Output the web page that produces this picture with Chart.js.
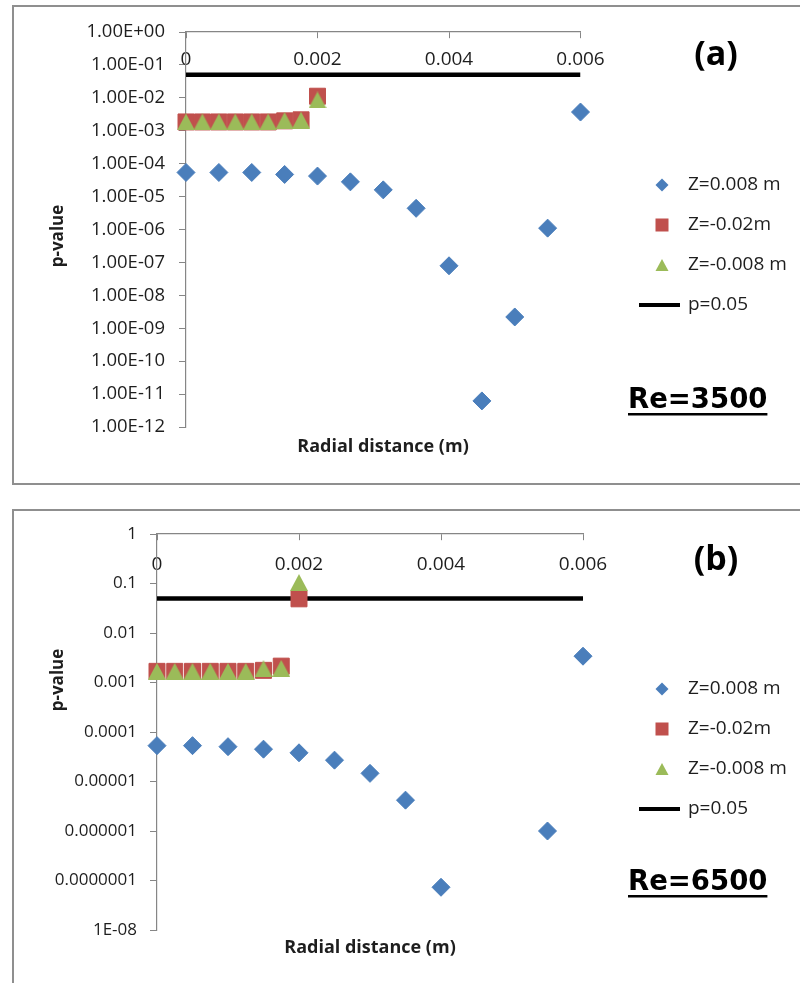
<!DOCTYPE html>
<html><head><meta charset="utf-8">
<script src="https://cdn.jsdelivr.net/npm/chart.js@4.4.0/dist/chart.umd.min.js"></script>
<style>
html,body{margin:0;padding:0;background:#fff;width:800px;height:983px;overflow:hidden;position:relative;}
.frame{position:absolute;border:2px solid #8f8f8f;box-sizing:border-box;}
#f1{left:12px;top:5px;width:800px;height:480px;}
#f2{left:12px;top:509px;width:800px;height:500px;}
.wrap{position:absolute;left:0;width:800px;height:490px;}
#w1{top:0;} #w2{top:493px;}
</style></head>
<body>
<div class="frame" id="f1"></div>
<div class="frame" id="f2"></div>
<div class="wrap" id="w1"><canvas id="c1" width="800" height="490"></canvas></div>
<div class="wrap" id="w2"><canvas id="c2" width="800" height="490"></canvas></div>
<script>
// ---------- data ----------
const seriesNames = ['Z=0.008 m', 'Z=-0.02m', 'Z=-0.008 m', 'p=0.05'];
const xTicks = [0, 0.002, 0.004, 0.006];
const xTickLabels = ['0', '0.002', '0.004', '0.006'];
const yTicksA = [1, 1e-1, 1e-2, 1e-3, 1e-4, 1e-5, 1e-6, 1e-7, 1e-8, 1e-9, 1e-10, 1e-11, 1e-12];
const yTickLabelsA = ['1.00E+00','1.00E-01','1.00E-02','1.00E-03','1.00E-04','1.00E-05','1.00E-06','1.00E-07','1.00E-08','1.00E-09','1.00E-10','1.00E-11','1.00E-12'];
const yTicksB = [1, 1e-1, 1e-2, 1e-3, 1e-4, 1e-5, 1e-6, 1e-7, 1e-8];
const yTickLabelsB = ['1','0.1','0.01','0.001','0.0001','0.00001','0.000001','0.0000001','1E-08'];

// (a) Re=3500
const xBlueA = [0, 0.0005, 0.001, 0.0015, 0.002, 0.0025, 0.003, 0.0035, 0.004, 0.0045, 0.005, 0.0055, 0.006];
const pBlueA = [5.4e-5, 5.4e-5, 5.4e-5, 4.7e-5, 4.2e-5, 2.8e-5, 1.6e-5, 4.4e-6, 7.9e-8, 6.2e-12, 2.2e-9, 1.1e-6, 3.7e-3];
const xRedGreenA = [0, 0.00025, 0.0005, 0.00075, 0.001, 0.00125, 0.0015, 0.00175, 0.002];
const pRedA = [1.85e-3, 1.85e-3, 1.85e-3, 1.85e-3, 1.85e-3, 1.85e-3, 2.0e-3, 2.15e-3, 1.12e-2];
const pGreenA = [1.85e-3, 1.85e-3, 1.85e-3, 1.85e-3, 1.85e-3, 1.85e-3, 2.05e-3, 2.1e-3, 8.6e-3];

// (b) Re=6500
const xBlueB = [0, 0.0005, 0.001, 0.0015, 0.002, 0.0025, 0.003, 0.0035, 0.004, 0.0055, 0.006];
const pBlueB = [5.3e-5, 5.3e-5, 5.05e-5, 4.5e-5, 3.8e-5, 2.7e-5, 1.46e-5, 4.2e-6, 7.3e-8, 1.0e-6, 3.4e-3];
const xRedGreenB = [0, 0.00025, 0.0005, 0.00075, 0.001, 0.00125, 0.0015, 0.00175, 0.002];
const pRedB = [1.68e-3, 1.68e-3, 1.68e-3, 1.68e-3, 1.68e-3, 1.68e-3, 1.76e-3, 2.14e-3, 0.049];
const pGreenB = [1.68e-3, 1.68e-3, 1.68e-3, 1.68e-3, 1.68e-3, 1.68e-3, 1.9e-3, 1.93e-3, 0.105];

// threshold line
const lineX = [0, 0.006];
const lineP = [0.05, 0.05];

// ---------- styles ----------
const BLUE = '#4A7EBB', RED = '#C0504D', GREEN = '#9BBB59', AXIS = '#868686', TXT = '#1e1e1e';
const FONT = '"Open Sans", "DejaVu Sans", sans-serif';

function makeTri(w, h, color) {
  const c = document.createElement('canvas');
  c.width = w; c.height = h;
  const g = c.getContext('2d');
  g.fillStyle = color;
  g.beginPath(); g.moveTo(w / 2, 0); g.lineTo(w, h); g.lineTo(0, h); g.closePath(); g.fill();
  return c;
}
const triImg = makeTri(18, 17, GREEN);

const annot = {
  id: 'annot',
  afterDraw(chart, args, o) {
    const ctx = chart.ctx;
    ctx.save();
    ctx.fillStyle = '#000';
    // panel letter
    ctx.font = 'bold 34px ' + FONT;
    ctx.textAlign = 'center'; ctx.textBaseline = 'middle';
    ctx.fillText(o.panel, 716, o.panelY);
    // Re label underlined
    ctx.font = 'bold 27.5px "DejaVu Sans", sans-serif';
    ctx.textAlign = 'left'; ctx.textBaseline = 'alphabetic';
    ctx.fillText(o.re, 628, o.reY);
    const w = ctx.measureText(o.re).width;
    ctx.fillRect(628, o.reY + 5, w, 2.5);
    // axis titles
    ctx.fillStyle = TXT;
    ctx.font = 'bold 18px ' + FONT;
    ctx.textAlign = 'center'; ctx.textBaseline = 'middle';
    ctx.fillText('Radial distance (m)', o.xTitleX, o.xTitleY);
    ctx.save();
    ctx.translate(58, o.yTitleY); ctx.rotate(-Math.PI / 2);
    ctx.font = 'bold 17px ' + FONT;
    ctx.fillText('p-value', 0, 0);
    ctx.restore();
    // legend
    const ly = o.legendY;
    ctx.font = '19px ' + FONT;
    ctx.textAlign = 'left';
    ctx.fillStyle = BLUE; ctx.strokeStyle = BLUE; ctx.lineWidth = 1;
    Chart.helpers.drawPoint(ctx, {pointStyle: 'rectRot', radius: 6.5, rotation: 0, borderWidth: 0}, 662, ly);
    ctx.fillStyle = RED;
    ctx.fillRect(655.5, ly + 40 - 6.5, 13, 13);
    ctx.fillStyle = GREEN;
    ctx.beginPath(); ctx.moveTo(662, ly + 80 - 6); ctx.lineTo(668.5, ly + 80 + 6); ctx.lineTo(655.5, ly + 80 + 6); ctx.closePath(); ctx.fill();
    ctx.fillStyle = '#000';
    ctx.fillRect(639, ly + 120 - 2, 41, 4);
    ctx.fillStyle = TXT;
    ctx.fillText(seriesNames[0], 688, ly);
    ctx.fillText(seriesNames[1], 688, ly + 40);
    ctx.fillText(seriesNames[2], 688, ly + 80);
    ctx.fillText(seriesNames[3], 688, ly + 120);
    ctx.restore();
  }
};

function pts(xs, ys) { return xs.map((x, i) => ({x: x, y: ys[i]})); }

function build(id, cfg) {
  new Chart(document.getElementById(id), {
    type: 'scatter',
    data: {
      datasets: [
        {label: seriesNames[0], data: pts(cfg.xb, cfg.pb), pointStyle: 'rectRot', pointRadius: 9, backgroundColor: BLUE, borderColor: BLUE, borderWidth: 1, order: 2, clip: false},
        {label: seriesNames[1], data: pts(cfg.xrg, cfg.pr), pointStyle: 'rect', pointRadius: 11.3, backgroundColor: RED, borderColor: RED, borderWidth: 1, order: 1, clip: false},
        {label: seriesNames[2], data: pts(cfg.xrg, cfg.pg), pointStyle: triImg, pointRadius: 9, backgroundColor: GREEN, borderColor: GREEN, order: 0, clip: false},
        {label: seriesNames[3], data: pts(lineX, lineP), showLine: true, pointRadius: 0, borderColor: '#000', borderWidth: 4.5, order: 3}
      ]
    },
    options: {
      responsive: false, animation: false, devicePixelRatio: 1,
      events: [],
      layout: {padding: {left: 0, top: cfg.top, right: 800 - cfg.right, bottom: 490 - cfg.bottom}},
      plugins: {legend: {display: false}, tooltip: {enabled: false}, title: {display: false}, annot: cfg.annot},
      scales: {
        x: {
          type: 'linear', min: 0, max: 0.006, position: {y: 1},
          afterBuildTicks: s => { s.ticks = xTicks.map(v => ({value: v})); },
          ticks: {callback: (v, i) => xTickLabels[i], font: {family: FONT, size: cfg.xFont}, color: TXT, padding: cfg.xPad, maxRotation: 0},
          grid: {drawOnChartArea: false, drawTicks: true, tickLength: 6, color: AXIS, lineWidth: 1},
          border: {color: AXIS, width: 1.2}
        },
        y: {
          type: 'logarithmic', min: cfg.ymin, max: 1, position: 'left',
          afterBuildTicks: s => { s.ticks = cfg.yTicks.map(v => ({value: v, major: true})); },
          afterFit: s => { s.width = cfg.left; },
          ticks: {callback: (v, i) => cfg.yLabels[i], font: {family: FONT, size: cfg.yFont}, color: TXT, padding: cfg.yPad, autoSkip: false},
          grid: {drawOnChartArea: false, drawTicks: true, tickLength: 7, color: AXIS, lineWidth: 1},
          border: {color: AXIS, width: 1.2}
        }
      }
    },
    plugins: [annot]
  });
}

build('c1', {
  xb: xBlueA, pb: pBlueA, xrg: xRedGreenA, pr: pRedA, pg: pGreenA,
  ymin: 1e-12, yTicks: yTicksA, yLabels: yTickLabelsA,
  left: 186, right: 580.5, top: 32, bottom: 427, xPad: 10, yPad: 14, xFont: 19, yFont: 18.5,
  annot: {panel: '(a)', panelY: 55, re: 'Re=3500', reY: 408, xTitleX: 383, xTitleY: 447, yTitleY: 236, legendY: 185}
});
build('c2', {
  xb: xBlueB, pb: pBlueB, xrg: xRedGreenB, pr: pRedB, pg: pGreenB,
  ymin: 1e-8, yTicks: yTicksB, yLabels: yTickLabelsB,
  left: 157, right: 583, top: 41, bottom: 437, xPad: 13, yPad: 13, xFont: 19, yFont: 17,
  annot: {panel: '(b)', panelY: 67, re: 'Re=6500', reY: 397, xTitleX: 370, xTitleY: 455, yTitleY: 187, legendY: 196}
});
</script>
</body></html>
